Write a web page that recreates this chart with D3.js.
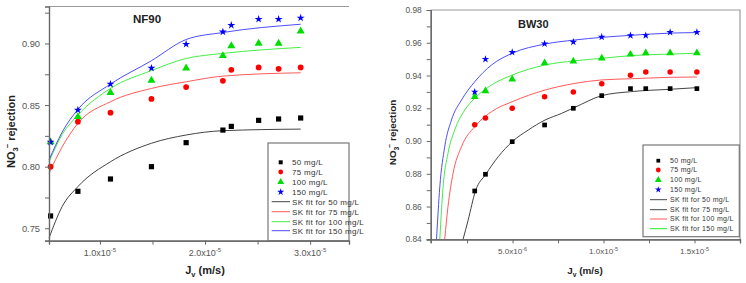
<!DOCTYPE html>
<html>
<head>
<meta charset="utf-8">
<script src="https://cdn.jsdelivr.net/npm/d3@7"></script>
<style>
body{margin:0;background:#fff}
svg{display:block;font-family:"Liberation Sans",Arial,sans-serif}
</style>
</head>
<body>
<svg id="fig" width="746" height="283"></svg>
<script>
// ---- NF90 : measured rejection vs permeate flux (m/s)
var nfFlux = [0.53e-5, 0.79e-5, 1.10e-5, 1.49e-5, 1.82e-5, 2.17e-5, 2.25e-5, 2.51e-5, 2.70e-5, 2.91e-5];
var nf50  = [0.760, 0.780, 0.790, 0.800, 0.8195, 0.8297, 0.8327, 0.8376, 0.8387, 0.8395];
var nf75  = [0.800, 0.8365, 0.8438, 0.855, 0.8646, 0.8697, 0.8786, 0.8805, 0.8794, 0.8805];
var nf100 = [0.820, 0.8405, 0.860, 0.870, 0.880, 0.890, 0.898, 0.900, 0.900, 0.910];
var nf150 = [0.820, 0.846, 0.867, 0.880, 0.8994, 0.9094, 0.9148, 0.9197, 0.9197, 0.9207];

// NF90 SK fit curves: [flux, rejection]
var nfFit50  = [[0.515e-5,0.742],[0.64e-5,0.7676],[0.79e-5,0.7838],[1.10e-5,0.804],[1.49e-5,0.819],[1.82e-5,0.8257],[2.17e-5,0.8292],[2.91e-5,0.8305]];
var nfFit75  = [[0.515e-5,0.7946],[0.64e-5,0.816],[0.79e-5,0.8352],[1.10e-5,0.8527],[1.49e-5,0.8635],[1.82e-5,0.8689],[2.17e-5,0.8735],[2.91e-5,0.8762]];
var nfFit100 = [[0.515e-5,0.804],[0.64e-5,0.826],[0.79e-5,0.8419],[1.10e-5,0.8635],[1.49e-5,0.878],[1.82e-5,0.8878],[2.17e-5,0.8919],[2.91e-5,0.8968]];
var nfFit150 = [[0.515e-5,0.8054],[0.64e-5,0.828],[0.79e-5,0.8465],[1.10e-5,0.867],[1.49e-5,0.886],[1.82e-5,0.9032],[2.17e-5,0.9089],[2.91e-5,0.9156]];

// ---- BW30
var bwFlux = [2.92e-6, 3.51e-6, 4.98e-6, 6.76e-6, 8.34e-6, 9.90e-6, 11.48e-6, 12.32e-6, 13.66e-6, 15.13e-6];
var bw50  = [0.8695, 0.8797, 0.8996, 0.9098, 0.920, 0.9277, 0.932, 0.932, 0.932, 0.932];
var bw75  = [0.910, 0.9141, 0.920, 0.9271, 0.930, 0.935, 0.9401, 0.9421, 0.9421, 0.9421];
var bw100 = [0.927, 0.9305, 0.9377, 0.9476, 0.9487, 0.9505, 0.9529, 0.9537, 0.9537, 0.9537];
var bw150 = [0.930, 0.950, 0.9542, 0.9594, 0.9605, 0.9635, 0.9645, 0.9645, 0.9664, 0.9664];

var bwFit50  = [[2.28e-6,0.84],[2.56e-6,0.8518],[2.96e-6,0.8695],[3.53e-6,0.8797],[4.21e-6,0.8904],[4.98e-6,0.8996],[5.86e-6,0.9067],[6.78e-6,0.9128],[7.70e-6,0.9169],[8.43e-6,0.9206],[9.90e-6,0.9277],[11.46e-6,0.9301],[13.66e-6,0.9316],[15.13e-6,0.9326]];
var bwFit75  = [[1.27e-6,0.84],[1.45e-6,0.8599],[1.73e-6,0.8803],[2.19e-6,0.8965],[2.92e-6,0.9088],[3.84e-6,0.9179],[4.98e-6,0.924],[6.78e-6,0.9311],[8.43e-6,0.9352],[9.90e-6,0.9373],[11.46e-6,0.938],[13.66e-6,0.9389],[15.13e-6,0.9391]];
var bwFit100 = [[1.0e-6,0.84],[1.18e-6,0.872],[1.45e-6,0.8925],[1.82e-6,0.9067],[2.37e-6,0.9189],[2.92e-6,0.9261],[3.84e-6,0.9342],[4.98e-6,0.9403],[6.78e-6,0.9464],[8.43e-6,0.949],[9.90e-6,0.9505],[11.46e-6,0.9521],[13.66e-6,0.9531],[15.13e-6,0.9536]];
var bwFit150 = [[0.82e-6,0.84],[1.0e-6,0.872],[1.27e-6,0.8965],[1.64e-6,0.9128],[2.19e-6,0.925],[2.92e-6,0.9362],[3.84e-6,0.9464],[4.98e-6,0.9536],[6.78e-6,0.9592],[8.43e-6,0.9617],[9.90e-6,0.9633],[11.46e-6,0.9645],[13.66e-6,0.9659],[15.13e-6,0.9662]];

// ---- ticks
var nfYMajor = [0.75, 0.80, 0.85, 0.90];
var nfYMinor = [0.775, 0.825, 0.875, 0.925];
var nfXMajor = [1e-5, 2e-5, 3e-5];
var nfXMinor = [1.5e-5, 2.5e-5];
var nfXTickText = ["1.0x10", "2.0x10", "3.0x10"];
var nfXTickExp  = ["-5", "-5", "-5"];

var bwYMajor = [0.84, 0.86, 0.88, 0.90, 0.92, 0.94, 0.96, 0.98];
var bwYMinor = [0.85, 0.87, 0.89, 0.91, 0.93, 0.95, 0.97];
var bwXMajor = [5e-6, 1e-5, 1.5e-5];
var bwXMinor = [2.5e-6, 7.5e-6, 1.25e-5, 1.75e-5];
var bwXTickText = ["5.0x10", "1.0x10", "1.5x10"];
var bwXTickExp  = ["-6", "-5", "-5"];

// ---- legends
var nfLegend = ["50 mg/L", "75 mg/L", "100 mg/L", "150 mg/L", "SK fit for 50 mg/L", "SK fit for 75 mg/L", "SK fit for 100 mg/L", "SK fit for 150 mg/L"];
var bwLegend = ["50 mg/L", "75 mg/L", "100 mg/L", "150 mg/L", "SK fit for 50 mg/L", "SK fit for 75 mg/L", "SK fit for 100 mg/L", "SK fit for 150 mg/L"];
var nfLegendLineColors = ["#444", "#ff5a5a", "#44ee44", "#4d4dff"];
var bwLegendLineColors = ["#444", "#444", "#ff5a5a", "#22ee22"];

var markColors = ["#000000", "#ff0000", "#00dd00", "#0000ff"];
var fitColors  = ["#444444", "#ff5a5a", "#44ee44", "#4d4dff"];
var shapes = [d3.symbolSquare, d3.symbolCircle, d3.symbolTriangle, d3.symbolStar];

var svg = d3.select("#fig");

function drawPanel(p){
	var g = svg.append("g");
	var x = d3.scaleLinear().domain(p.xDomain).range(p.xRange);
	var y = d3.scaleLinear().domain(p.yDomain).range(p.yRange);
	var k = p.k;	// font scale of this panel

	// frame top (+ right when visible)
	g.append("path")
	 .attr("d", "M" + p.xRange[0] + "," + p.yRange[1] + "H" + p.xRange[1] + (p.rightFrame ? "V" + p.yRange[0] : ""))
	 .attr("fill", "none").attr("stroke", "#9a9a9a").attr("stroke-width", 1.2);

	// fit curves
	var line = d3.line()
		.x(function(d){ return x(d[0]); })
		.y(function(d){ return y(d[1]); })
		.curve(d3.curveMonotoneX);
	p.fits.forEach(function(f, i){
		g.append("path").attr("d", line(f))
		 .attr("fill", "none").attr("stroke", fitColors[i]).attr("stroke-width", 1);
	});

	// measured points
	p.series.forEach(function(s, i){
		var sym = d3.symbol().type(shapes[i]).size(p.markSize[i]);
		g.selectAll(null).data(s).enter().append("path")
		 .attr("d", sym)
		 .attr("transform", function(d, j){ return "translate(" + x(p.flux[j]) + "," + y(d) + ")"; })
		 .attr("fill", markColors[i]);
	});

	// axes
	var yMin = g.append("g").attr("transform", "translate(" + p.xRange[0] + ",0)")
		.call(d3.axisLeft(y).tickValues(p.yMinor).tickSize(4).tickFormat(""));
	var yMaj = g.append("g").attr("transform", "translate(" + p.xRange[0] + ",0)")
		.call(d3.axisLeft(y).tickValues(p.yMajor).tickSize(4).tickPadding(5).tickFormat(d3.format(".2f")));
	var xMin = g.append("g").attr("transform", "translate(0," + p.yRange[0] + ")")
		.call(d3.axisBottom(x).tickValues(p.xMinor).tickSize(4).tickFormat(""));
	var xMaj = g.append("g").attr("transform", "translate(0," + p.yRange[0] + ")")
		.call(d3.axisBottom(x).tickValues(p.xMajor).tickSize(4).tickFormat(""));
	[yMin, yMaj, xMin, xMaj].forEach(function(a){
		a.selectAll(".domain").attr("stroke", "#666").attr("stroke-width", 1.2);
		a.selectAll(".tick line").attr("stroke", "#666");
	});
	yMaj.selectAll(".tick text").attr("font-size", 9.3 * k).attr("fill", "#555")
		.attr("font-family", "Liberation Sans, Arial, sans-serif");

	// x tick labels with superscript exponent
	p.xMajor.forEach(function(v, i){
		var t = g.append("text").attr("x", x(v)).attr("y", p.yRange[0] + 15)
			.attr("text-anchor", "middle").attr("font-size", 9 * k).attr("fill", "#555");
		t.append("tspan").text(p.xTickText[i]);
		t.append("tspan").attr("dy", -4 * k).attr("font-size", 6 * k).text(p.xTickExp[i]);
	});

	// title
	g.append("text").attr("x", p.title[1]).attr("y", p.title[2])
	 .attr("font-size", p.title[3]).attr("font-weight", "bold").attr("fill", "#222").text(p.title[0]);

	// y label  NO3- rejection
	var yl = g.append("text")
		.attr("transform", "translate(" + p.yLabelPos[0] + "," + p.yLabelPos[1] + ") rotate(-90)")
		.attr("text-anchor", "middle").attr("font-size", 11 * k).attr("font-weight", "bold").attr("fill", "#222");
	yl.append("tspan").text("NO");
	yl.append("tspan").attr("dy", 3 * k).attr("font-size", 7.5 * k).text("3");
	yl.append("tspan").attr("dy", -8 * k).attr("dx", -1).attr("font-size", 7.5 * k).text("\u2212");
	yl.append("tspan").attr("dy", 5 * k).text(" rejection");

	// x label  Jv (m/s)
	var xl = g.append("text").attr("x", p.xLabelPos[0]).attr("y", p.xLabelPos[1])
		.attr("text-anchor", "middle").attr("font-size", 11 * k).attr("font-weight", "bold").attr("fill", "#222");
	xl.append("tspan").text("J");
	xl.append("tspan").attr("dy", 3 * k).attr("font-size", 7.5 * k).text("v");
	xl.append("tspan").attr("dy", -3 * k).text(" (m/s)");

	// legend
	var L = p.legend;
	g.append("rect").attr("x", L.box[0]).attr("y", L.box[1])
	 .attr("width", L.box[2] - L.box[0]).attr("height", L.box[3] - L.box[1])
	 .attr("fill", "#fff").attr("stroke", "#777").attr("stroke-width", 1.2);
	L.labels.forEach(function(lab, i){
		var ry = L.rows[i];
		if (i < 4) {
			g.append("path").attr("d", d3.symbol().type(shapes[i]).size(L.symSize[i]))
			 .attr("transform", "translate(" + L.symX + "," + ry + ")").attr("fill", markColors[i]);
		} else {
			g.append("line").attr("x1", L.lineX[0]).attr("x2", L.lineX[1])
			 .attr("y1", ry).attr("y2", ry).attr("stroke", L.lineColors[i - 4]).attr("stroke-width", 1);
		}
		g.append("text").attr("x", L.textX).attr("y", ry).attr("dy", "0.35em")
		 .attr("font-size", L.fontSize).attr("letter-spacing", L.spacing).attr("fill", "#333").text(lab);
	});
}

drawPanel({
	xDomain: [0.515e-5, 3.37e-5], xRange: [49, 349],
	yDomain: [0.74, 0.93], yRange: [240.6, 6.5],
	k: 1, rightFrame: false,
	flux: nfFlux,
	series: [nf50, nf75, nf100, nf150],
	fits: [nfFit50, nfFit75, nfFit100, nfFit150],
	markSize: [27, 26, 28, 20],
	yMajor: nfYMajor, yMinor: nfYMinor,
	xMajor: nfXMajor, xMinor: nfXMinor,
	xTickText: nfXTickText, xTickExp: nfXTickExp,
	title: ["NF90", 133, 23, 11.5],
	yLabelPos: [14.5, 131.5],
	xLabelPos: [205, 274],
	legend: {
		box: [268, 143, 349, 240.6],
		rows: [162.3, 172, 182, 192, 201.7, 211.7, 221.7, 230.7],
		symX: 280.7, lineX: [271.7, 290], textX: 292,
		symSize: [16, 18, 20, 15],
		labels: nfLegend, lineColors: nfLegendLineColors,
		fontSize: 8, spacing: 0.3
	}
});

drawPanel({
	xDomain: [0.5e-6, 17.5e-6], xRange: [430.7, 740],
	yDomain: [0.84, 0.98], yRange: [239.3, 10],
	k: 0.9, rightFrame: true,
	flux: bwFlux,
	series: [bw50, bw75, bw100, bw150],
	fits: [bwFit50, bwFit75, bwFit100, bwFit150],
	markSize: [22, 24, 26, 18],
	yMajor: bwYMajor, yMinor: bwYMinor,
	xMajor: bwXMajor, xMinor: bwXMinor,
	xTickText: bwXTickText, xTickExp: bwXTickExp,
	title: ["BW30", 518, 28, 11],
	yLabelPos: [396, 132.5],
	xLabelPos: [585, 274],
	legend: {
		box: [643, 145, 739.3, 236.7],
		rows: [160.7, 170, 180, 189.7, 199.7, 209.7, 219, 228.7],
		symX: 658.3, lineX: [650, 667], textX: 670,
		symSize: [14, 18, 20, 14],
		labels: bwLegend, lineColors: bwLegendLineColors,
		fontSize: 7, spacing: 0.3
	}
});
</script>
</body>
</html>
